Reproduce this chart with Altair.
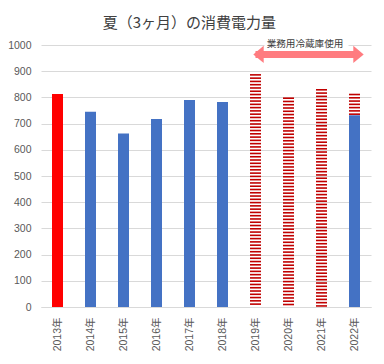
import altair as alt
import pandas as pd

# ---- data ----
years = ["2013年", "2014年", "2015年", "2016年", "2017年",
         "2018年", "2019年", "2020年", "2021年", "2022年"]
measured = [813, 745, 662, 718, 790, 782, None, None, None, 732]   # solid bars
fridge = [None, None, None, None, None, None, 886, 797, 829, 811]  # hatched bars
highlight = [True, False, False, False, False, False, False, False, False, False]

arrow_years = ["2019年", "2022年"]
arrow_level = 964
note_text = "業務用冷蔵庫使用"
note_year = "2020年"
note_level = 1003

title_text = "夏（3ヶ月）の消費電力量"
y_ticks = list(range(0, 1001, 100))

FONT = "Liberation Sans, Noto Sans CJK JP"
JP = "Noto Sans CJK JP"
RED = "#FF0000"
BLUE = "#4472C4"
HATCH = "#C00000"
ARROW = "#FF7C80"

bars_df = pd.DataFrame({"year": years, "value": measured, "first": highlight}).dropna(subset=["value"])
hatch_df = pd.DataFrame({"year": years, "value": fridge}).dropna(subset=["value"])
arrow_df = pd.DataFrame({"year": arrow_years, "value": [arrow_level] * len(arrow_years)})
note_df = pd.DataFrame({"year": [note_year], "value": [note_level], "label": [note_text]})

xscale = alt.Scale(domain=years, paddingInner=0, paddingOuter=0)
yscale = alt.Scale(domain=[0, 1000], nice=False)

X_AXIS = alt.Axis(title=None, labelAngle=-90, ticks=False, labelPadding=10,
                  domainColor="#D9D9D9", grid=False)
Y_AXIS = alt.Axis(title=None, values=y_ticks, tickCount=len(y_ticks) + 1, format="d",
                  labelOverlap=False, grid=True, gridColor="#D9D9D9", domain=False,
                  ticks=False, labelPadding=10)


def X(**kw):
    return alt.X("year:N", sort=years, scale=xscale, axis=X_AXIS, **kw)


def Y(field):
    return alt.Y(field, scale=yscale, axis=Y_AXIS)


stripes = (
    alt.Chart(hatch_df)
    .transform_calculate(s="sequence(datum.value, 0, -12.5)")
    .transform_flatten(["s"])
    .mark_tick(size=11, thickness=1.6, color=HATCH, opacity=1)
    .encode(x=X(), y=Y("s:Q"))
)

bars = (
    alt.Chart(bars_df)
    .mark_bar(size=11)
    .encode(
        x=X(),
        y=Y("value:Q"),
        color=alt.Color("first:N", scale=alt.Scale(domain=[True, False], range=[RED, BLUE]), legend=None),
    )
)

shaft = (
    alt.Chart(arrow_df)
    .mark_line(strokeWidth=7, color=ARROW, strokeCap="butt")
    .encode(x=X(), y=Y("value:Q"))
)

head_left = (
    alt.Chart(arrow_df.iloc[[0]])
    .mark_point(shape="M-0.6,0L0.6,-1L0.6,1Z", filled=True, size=300, color=ARROW, opacity=1, xOffset=3)
    .encode(x=X(), y=Y("value:Q"))
)
head_right = (
    alt.Chart(arrow_df.iloc[[1]])
    .mark_point(shape="M0.6,0L-0.6,-1L-0.6,1Z", filled=True, size=300, color=ARROW, opacity=1, xOffset=4)
    .encode(x=X(), y=Y("value:Q"))
)

note_bg = (
    alt.Chart(note_df)
    .transform_calculate(lo="datum.value - 14", hi="datum.value + 14")
    .mark_bar(width=84, color="white", xOffset=18)
    .encode(x=X(), y=Y("lo:Q"), y2="hi:Q")
)

note = (
    alt.Chart(note_df)
    .mark_text(font=JP, fontSize=9.6, color="#404040")
    .encode(x=X(bandPosition=1), y=Y("value:Q"), text="label:N")
)

# stripes drawn first so the 2022 solid bar covers them
chart = (
    alt.layer(stripes, bars, note_bg, shaft, head_left, head_right, note)
    .properties(
        width=330,
        height=262,
        title=alt.TitleParams(title_text, font=JP, fontSize=15, fontWeight=400,
                              color="#404040", frame="bounds", anchor="middle", offset=8),
        autosize=alt.AutoSizeParams(type="none"),
        padding={"left": 33, "top": 37, "right": 5, "bottom": 50},
    )
    .configure_view(stroke=None)
    .configure_axis(labelFont=FONT, labelFontSize=10.5, labelColor="#595959")
)

chart.save("out.html", embed_options={"renderer": "svg", "actions": False})
